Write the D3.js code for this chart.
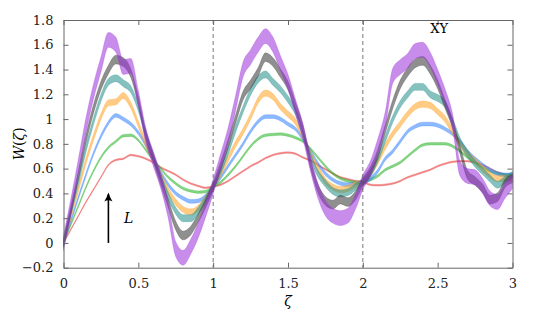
<!DOCTYPE html>
<html>
<head>
<meta charset="utf-8">
<script src="https://cdn.jsdelivr.net/npm/d3@7"></script>
<style>
body { margin: 0; background: #fff; }
svg text { font-family: "DejaVu Serif", serif; }
.axis path, .axis line { stroke: #666; }
</style>
</head>
<body>
<div id="plot"></div>
<script>
// sample positions along zeta
var xs = [0, 0.05, 0.1, 0.15, 0.2, 0.25, 0.3, 0.35, 0.4, 0.45, 0.5, 0.55, 0.6, 0.65, 0.7, 0.75, 0.8, 0.85, 0.9, 0.95,
          1, 1.05, 1.1, 1.15, 1.2, 1.25, 1.3, 1.35, 1.4, 1.45, 1.5, 1.55, 1.6, 1.65, 1.7, 1.75, 1.8, 1.85, 1.9, 1.95,
          2, 2.05, 2.1, 2.15, 2.2, 2.25, 2.3, 2.35, 2.4, 2.45, 2.5, 2.55, 2.6, 2.65, 2.7, 2.75, 2.8, 2.85, 2.9, 2.95, 3];

// W(zeta) for each L, smallest first
var red = [0, 0.11, 0.22, 0.33, 0.43, 0.53, 0.63, 0.67, 0.68, 0.71, 0.70, 0.68, 0.65, 0.61, 0.58, 0.55, 0.51, 0.48, 0.46, 0.445,
           0.455, 0.47, 0.50, 0.54, 0.58, 0.62, 0.65, 0.685, 0.71, 0.725, 0.73, 0.72, 0.69, 0.665, 0.63, 0.595, 0.56, 0.53, 0.515, 0.50,
           0.49, 0.47, 0.465, 0.47, 0.48, 0.50, 0.53, 0.55, 0.57, 0.59, 0.62, 0.64, 0.655, 0.66, 0.66, 0.65, 0.63, 0.60, 0.57, 0.55, 0.53];
var green = [0, 0.15, 0.30, 0.45, 0.58, 0.69, 0.77, 0.82, 0.865, 0.87, 0.83, 0.75, 0.67, 0.60, 0.53, 0.48, 0.44, 0.42, 0.41, 0.415,
             0.455, 0.49, 0.55, 0.62, 0.70, 0.78, 0.84, 0.87, 0.875, 0.88, 0.87, 0.85, 0.82, 0.76, 0.69, 0.62, 0.56, 0.52, 0.50, 0.49,
             0.49, 0.51, 0.54, 0.59, 0.62, 0.65, 0.70, 0.75, 0.79, 0.80, 0.80, 0.80, 0.78, 0.74, 0.69, 0.65, 0.61, 0.58, 0.56, 0.55, 0.55];
var blue = [0, 0.18, 0.37, 0.55, 0.72, 0.86, 0.97, 1.03, 1.00, 0.96, 0.89, 0.79, 0.67, 0.57, 0.47, 0.40, 0.36, 0.335, 0.34, 0.38,
            0.455, 0.53, 0.62, 0.71, 0.80, 0.90, 0.98, 1.02, 1.02, 1.00, 0.96, 0.92, 0.84, 0.74, 0.64, 0.56, 0.51, 0.48, 0.47, 0.48,
            0.49, 0.52, 0.58, 0.68, 0.74, 0.82, 0.90, 0.94, 0.96, 0.96, 0.95, 0.92, 0.88, 0.82, 0.74, 0.68, 0.63, 0.59, 0.56, 0.55, 0.55];
var orange = [0, 0.22, 0.44, 0.66, 0.85, 1.02, 1.13, 1.14, 1.19, 1.11, 0.96, 0.80, 0.67, 0.55, 0.42, 0.33, 0.27, 0.25, 0.28, 0.36,
              0.455, 0.56, 0.68, 0.80, 0.90, 1.02, 1.15, 1.21, 1.18, 1.10, 1.04, 0.98, 0.86, 0.72, 0.60, 0.50, 0.45, 0.43, 0.44, 0.47,
              0.49, 0.56, 0.66, 0.78, 0.88, 0.96, 1.04, 1.10, 1.12, 1.11, 1.06, 1.00, 0.90, 0.80, 0.72, 0.66, 0.60, 0.55, 0.52, 0.52, 0.53];
var teal = [0, 0.25, 0.50, 0.76, 0.98, 1.17, 1.30, 1.33, 1.29, 1.24, 1.09, 0.88, 0.69, 0.53, 0.38, 0.26, 0.20, 0.20, 0.26, 0.35,
            0.455, 0.58, 0.74, 0.92, 1.08, 1.22, 1.32, 1.36, 1.30, 1.24, 1.16, 1.06, 0.88, 0.70, 0.56, 0.48, 0.42, 0.40, 0.41, 0.45,
            0.49, 0.56, 0.68, 0.84, 1.00, 1.12, 1.20, 1.26, 1.26, 1.20, 1.17, 1.12, 0.98, 0.82, 0.72, 0.64, 0.58, 0.52, 0.47, 0.51, 0.55];
var gray = [0, 0.27, 0.55, 0.84, 1.08, 1.27, 1.40, 1.48, 1.46, 1.37, 1.15, 0.87, 0.69, 0.50, 0.32, 0.14, 0.06, 0.10, 0.20, 0.32,
            0.455, 0.62, 0.80, 1.00, 1.19, 1.28, 1.38, 1.50, 1.46, 1.37, 1.27, 1.10, 0.92, 0.64, 0.44, 0.34, 0.31, 0.35, 0.33, 0.38,
            0.49, 0.58, 0.72, 0.92, 1.12, 1.28, 1.38, 1.45, 1.47, 1.40, 1.28, 1.12, 0.96, 0.75, 0.55, 0.50, 0.44, 0.35, 0.37, 0.48, 0.52];
var purple = [0, 0.30, 0.62, 0.95, 1.22, 1.44, 1.64, 1.60, 1.42, 1.43, 1.17, 0.87, 0.68, 0.50, 0.26, -0.05, -0.12, -0.03, 0.10, 0.27,
              0.455, 0.66, 0.87, 1.13, 1.40, 1.50, 1.60, 1.67, 1.60, 1.45, 1.30, 1.10, 0.90, 0.64, 0.42, 0.28, 0.22, 0.20, 0.22, 0.33,
              0.49, 0.60, 0.78, 1.00, 1.35, 1.42, 1.47, 1.55, 1.56, 1.48, 1.34, 1.18, 0.98, 0.60, 0.54, 0.53, 0.46, 0.36, 0.33, 0.42, 0.50];

var seriesValues = [red, green, blue, orange, teal, gray, purple];
var colors = ["#e83030", "#20b020", "#3080ff", "#ffa020", "#20908a", "#333333", "#9b30d9"];
var halfWidths = [0.006, 0.01, 0.015, 0.025, 0.028, 0.035, 0.06];

var xTicks = [0, 0.5, 1, 1.5, 2, 2.5, 3];
var yTicks = [-0.2, 0, 0.2, 0.4, 0.6, 0.8, 1, 1.2, 1.4, 1.6, 1.8];
var dashedAt = [1, 2];

var serif = "'DejaVu Serif', serif";

// svg bounds
var margin = {top: 20, right: 37.5, bottom: 46.3, left: 63.5};
var width = 550 - margin.left - margin.right;
var height = 314 - margin.top - margin.bottom;

var svg = d3.select("#plot").append("svg")
    .attr("width", 550)
    .attr("height", 314)
    .attr("font-family", serif)
  .append("g")
    .attr("transform", "translate(" + margin.left + "," + margin.top + ")");

var xScale = d3.scaleLinear().domain([0, 3]).range([0, width]);
var yScale = d3.scaleLinear().domain([-0.2, 1.8]).range([height, 0]);

function fmt(d) { return d < 0 ? "\u2212" + Math.abs(d) : String(d); }

// bands
var area = d3.area()
    .x(function(d) { return xScale(d.x); })
    .y0(function(d) { return yScale(d.y - d.w); })
    .y1(function(d) { return yScale(d.y + d.w); })
    .curve(d3.curveMonotoneX);

seriesValues.forEach(function(vals, k) {
  var pts = vals.map(function(v, i) { return {x: xs[i], y: v, w: halfWidths[k]}; });
  svg.append("path")
      .datum(pts)
      .attr("d", area)
      .attr("fill", colors[k])
      .attr("fill-opacity", 0.55)
      .attr("stroke", colors[k])
      .attr("stroke-opacity", 0.45)
      .attr("stroke-width", 0.6);
});

// dashed period lines
svg.selectAll(".period")
    .data(dashedAt)
    .enter().append("line")
    .attr("x1", function(d) { return xScale(d); })
    .attr("x2", function(d) { return xScale(d); })
    .attr("y1", 0)
    .attr("y2", height)
    .attr("stroke", "#555")
    .attr("stroke-width", 0.8)
    .attr("stroke-dasharray", "4,3");

// axes, ticks on all four sides pointing inwards
svg.append("g")
    .attr("class", "axis")
    .attr("transform", "translate(0," + height + ")")
    .call(d3.axisBottom(xScale).tickValues(xTicks).tickFormat(fmt).tickSizeInner(-5).tickSizeOuter(0).tickPadding(11));
svg.append("g")
    .attr("class", "axis")
    .call(d3.axisTop(xScale).tickValues(xTicks).tickFormat("").tickSizeInner(-5).tickSizeOuter(0));
svg.append("g")
    .attr("class", "axis")
    .call(d3.axisLeft(yScale).tickValues(yTicks).tickFormat(fmt).tickSizeInner(-5).tickSizeOuter(0).tickPadding(10));
svg.append("g")
    .attr("class", "axis")
    .attr("transform", "translate(" + width + ",0)")
    .call(d3.axisRight(yScale).tickValues(yTicks).tickFormat("").tickSizeInner(-5).tickSizeOuter(0));

svg.selectAll(".axis")
    .attr("font-family", serif)
    .attr("font-size", 13);
svg.selectAll(".axis text")
    .attr("fill", "#222");

// axis labels
svg.append("text")
    .attr("x", xScale(1.5))
    .attr("y", height + 38)
    .attr("text-anchor", "middle")
    .attr("font-size", 14)
    .attr("font-style", "italic")
    .text("\u03B6");

svg.append("text")
    .attr("transform", "translate(" + (-40) + "," + yScale(0.8) + ") rotate(-90)")
    .attr("text-anchor", "middle")
    .attr("font-size", 14)
    .html("<tspan font-style='italic'>W</tspan>(<tspan font-style='italic'>\u03B6</tspan>)");

svg.append("text")
    .attr("x", xScale(2.51))
    .attr("y", 13)
    .attr("text-anchor", "middle")
    .attr("font-size", 13)
    .text("XY");

// arrow for increasing L
svg.append("defs").append("marker")
    .attr("id", "head")
    .attr("viewBox", "0 0 10 10")
    .attr("refX", 8).attr("refY", 5)
    .attr("markerUnits", "userSpaceOnUse")
    .attr("markerWidth", 11).attr("markerHeight", 9)
    .attr("orient", "auto")
  .append("path")
    .attr("d", "M0,0.5 Q5,3.5 10,5 Q5,6.5 0,9.5 Q3,5 0,0.5 z")
    .attr("fill", "#000");

svg.append("line")
    .attr("x1", xScale(0.3)).attr("y1", yScale(0))
    .attr("x2", xScale(0.3)).attr("y2", yScale(0.4) + 1)
    .attr("stroke", "#000")
    .attr("stroke-width", 1.6)
    .attr("marker-end", "url(#head)");

svg.append("text")
    .attr("x", xScale(0.405))
    .attr("y", yScale(0.16))
    .attr("font-size", 14)
    .attr("font-style", "italic")
    .text("L");
</script>
</body>
</html>
